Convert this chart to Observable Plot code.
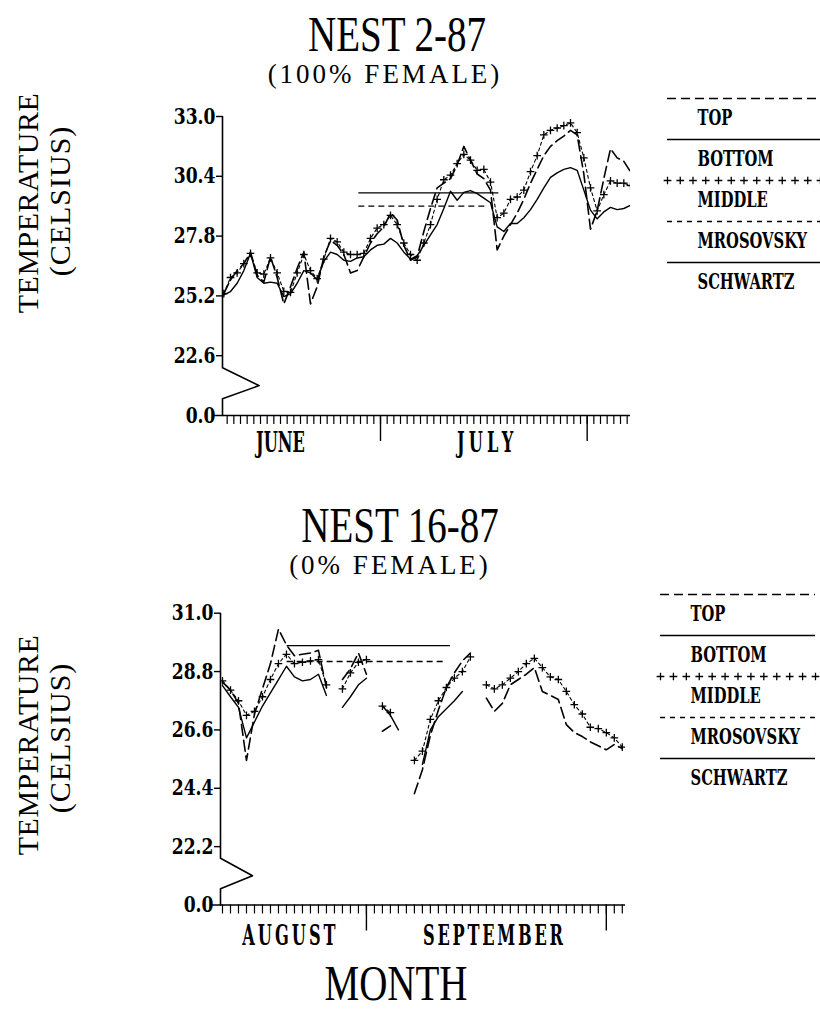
<!DOCTYPE html>
<html>
<head>
<meta charset="utf-8">
<script src="https://cdn.jsdelivr.net/npm/d3@7"></script>
<script src="https://cdn.jsdelivr.net/npm/@observablehq/plot@0.6"></script>
<style>
  html, body { margin: 0; padding: 0; background: #fff; }
  #page { position: relative; width: 820px; height: 1026px; overflow: hidden; background: #fff; }
  .t { position: absolute; white-space: nowrap; color: #000; font-family: "Liberation Serif", "DejaVu Serif", serif; }
  .big { font-size: 50px; line-height: 50px; transform: translateX(-50%) scaleX(0.78); }
  .sub { font-size: 27px; line-height: 27px; letter-spacing: 3px; transform: translateX(-50%); }
  .ylab { font-size: 30px; line-height: 30px; letter-spacing: 0.5px; transform: translate(-50%, -50%) rotate(-90deg); }
</style>
</head>
<body>
<div id="page">
  <div class="t big" style="left:397px; top:9px;">NEST 2-87</div>
  <div class="t sub" style="left:385px; top:61px;">(100% FEMALE)</div>
  <div class="t ylab" style="left:28px; top:203px;">TEMPERATURE</div>
  <div class="t ylab" style="left:60px; top:201px; letter-spacing:1px;">(CELSIUS)</div>

  <div class="t big" style="left:400px; top:500px;">NEST 16-87</div>
  <div class="t sub" style="left:390px; top:552px;">(0% FEMALE)</div>
  <div class="t ylab" style="left:28px; top:745px;">TEMPERATURE</div>
  <div class="t ylab" style="left:60px; top:738px; letter-spacing:1px;">(CELSIUS)</div>

  <div class="t big" style="left:396px; top:958px;">MONTH</div>
</div>
<script>
const DAY = 864e5;

// ---------- NEST 2-87 : daily means, June 7 .. Aug 7 1987 (plotted at midday) ----------
const topFirstDay = Date.UTC(1987, 5, 7, 12);
const topTOP = [
  25.3, 25.9, 26.3, 26.6, 27.1, 26.1, 25.8, 26.9, 26.0, 24.85,
  25.6, 26.4, 27.1, 24.85, 25.6, 26.9, 27.6, 27.4, 27.0, 26.2,
  26.3, 26.9, 27.5, 27.9, 28.2, 28.8, 28.5, 27.4, 26.75, 26.9,
  28.0, 29.0, 29.9, 30.1, 30.3, 30.9, 31.7, 31.1, 30.5, 30.3,
  29.8, 27.2, 27.8, 28.3, 28.8, 29.4, 30.1, 30.7, 31.3, 31.7,
  31.95, 32.15, 32.4, 32.2, 30.5, 28.1, 28.9, 30.3, 31.6, 31.2,
  31.05, 30.6
];
const topBOTTOM = [
  25.24, 25.39, 25.75, 26.3, 27.05, 26.0, 25.75, 25.8, 25.75, 25.17,
  25.3, 25.75, 26.3, 26.2, 25.9, 26.7, 27.1, 27.0, 26.75, 26.7,
  26.85, 26.9, 27.2, 27.4, 27.45, 27.7, 27.5, 27.1, 26.8, 26.95,
  27.4, 27.85, 28.3, 29.0, 29.75, 29.36, 29.7, 29.78, 29.65, 29.45,
  29.25, 28.2, 28.0, 28.35, 28.35, 28.6, 28.95, 29.4, 29.9, 30.35,
  30.55, 30.7, 30.78, 30.66, 29.8, 28.93, 28.55, 28.85, 29.05, 28.95,
  29.0, 29.14
];
const topMIDDLE = [
  25.3, 26.0, 26.2, 26.6, 27.05, 26.2, 26.15, 26.85, 26.2, 25.4,
  25.35, 26.2, 27.0, 26.3, 25.95, 26.8, 27.7, 27.55, 27.1, 27.0,
  27.0, 27.05, 27.7, 28.15, 28.3, 28.7, 28.3, 27.5, 27.0, 26.75,
  27.5, 28.3, 29.4, 30.25, 30.45, 30.95, 31.35, 31.1, 30.66, 30.7,
  30.15, 28.6, 28.8, 29.4, 29.5, 29.8, 30.6, 31.3, 32.2, 32.4,
  32.5, 32.6, 32.72, 32.3, 31.2, 29.9, 28.9, 29.6, 30.2, 30.1,
  30.1, 30.0
];

// ---------- NEST 16-87 : daily means, Aug 14 .. Oct 3 1987 (null = no reading) ----------
const botFirstDay = Date.UTC(1987, 7, 14);
const botTOP = [
  28.4, 28.1, 27.6, 25.45, 27.2, 28.15, 29.1, 30.4, 29.8, 29.4,
  29.45, 29.5, 29.6, 28.2, null, 28.5, 28.9, 29.5, 28.7, null,
  26.55, 26.75, null, null, 24.2, 25.1, 26.4, 27.35, 28.2, 28.75,
  29.2, 29.5, null, 27.8, 27.3, 27.6, 28.3, 28.5, 28.7, 28.95,
  28.05, 27.9, 27.75, 26.8, 26.5, 26.35, 26.15, 26.0, 25.85, 26.05,
  25.9
];
const botBOTTOM = [
  28.27, 27.85, 27.45, 26.3, 26.9, 27.5, 28.0, 28.5, 29.0, 28.6,
  28.45, 28.5, 28.7, 27.9, null, 27.45, 27.85, 28.3, 28.55, null,
  27.5, 27.15, 26.6, null, null, 25.3, 26.6, 27.1, 27.4, 27.7,
  28.05, null, null, null, null, null, null, null, null, null,
  null, null, null, null, null, null, null, null, null, null,
  null
];
const botMIDDLE = [
  28.45, 28.1, 27.7, 27.15, 27.3, 27.85, 28.5, 29.1, 29.45, 29.1,
  29.15, 29.2, 29.25, 28.3, null, 28.15, 28.75, 29.15, 29.25, null,
  27.5, 27.25, null, null, 25.45, 25.8, 27.0, 27.7, 28.2, 28.55,
  28.8, 29.35, null, 28.3, 28.15, 28.3, 28.55, 28.8, 29.1, 29.3,
  28.95, 28.6, 28.5, 28.05, 27.55, 27.2, 26.7, 26.65, 26.5, 26.3,
  25.95
];

// ---------- pivotal temperature lines ----------
const refNames = ["MROSOVSKY", "SCHWARTZ"];
const topRefValues = [29.1, 29.68];
const topRefStart = ["1987-06-27T18:00Z", "1987-06-27T18:00Z"];
const topRefEnd = ["1987-07-16T18:00Z", "1987-07-18T18:00Z"];
const botRefValues = [29.18, 29.78];
const botRefStart = ["1987-08-22T02:00Z", "1987-08-22T02:00Z"];
const botRefEnd = ["1987-09-11T02:00Z", "1987-09-11T12:00Z"];

// ---------- axes ----------
const topYTicks = [20, 22.6, 25.2, 27.8, 30.4, 33.0];
const topYTickLabels = ["0.0", "22.6", "25.2", "27.8", "30.4", "33.0"];
const botYTicks = [20, 22.2, 24.4, 26.6, 28.8, 31.0];
const botYTickLabels = ["0.0", "22.2", "24.4", "26.6", "28.8", "31.0"];
const topMonths = ["JUNE", "JULY"];
const topMonthLabelAt = ["1987-06-16T00:00Z", "1987-07-17T00:00Z"];
const topMonthStarts = ["1987-07-01T00:00Z", "1987-08-01T00:00Z"];
const botMonths = ["AUGUST", "SEPTEMBER"];
const botMonthLabelAt = ["1987-08-22T12:00Z", "1987-09-17T00:00Z"];
const botMonthStarts = ["1987-09-01T00:00Z", "1987-10-01T00:00Z"];
const seriesNames = ["TOP", "BOTTOM", "MIDDLE", "MROSOVSKY", "SCHWARTZ"];

// ---------- text styling helpers ----------
const FONT = "DejaVu Serif, Liberation Serif, serif";
const monthSpacing = {JUNE: 0, JULY: 7, AUGUST: 5, SEPTEMBER: 4.6};

function condense(svg, sx) {
  svg.querySelectorAll("text").forEach(t => {
    const tr = t.getAttribute("transform") || "";
    const isMonth = t.textContent in monthSpacing;
    t.setAttribute("transform", `${tr} scale(${isMonth ? 0.6 : sx},1)`);
    if (isMonth) t.setAttribute("letter-spacing", monthSpacing[t.textContent]);
  });
}

function rowsOf(first, TOP, BOTTOM, MIDDLE) {
  return TOP.map((v, i) => ({date: new Date(first + i * DAY), TOP: v, BOTTOM: BOTTOM[i], MIDDLE: MIDDLE[i]}));
}

function panel(o) {
  const [x0, x1] = o.xDomain;
  const yMin = o.yTicks[0], low = o.yTicks[1], step = o.yTicks[2] - o.yTicks[1];
  const yMax = o.yTicks[o.yTicks.length - 1];
  const axisPath = [
    {x: x0, y: yMax},
    {x: x0, y: low - 0.2 * step},
    {x: new Date(+x0 + o.breakDays * DAY), y: low - 0.5 * step},
    {x: x0, y: low - 0.72 * step},
    {x: x0, y: yMin}
  ];
  const refs = refNames.map((name, i) => ({name, value: o.refValues[i], start: new Date(o.refStart[i]), end: new Date(o.refEnd[i])}));
  const dayTicks = d3.utcDay.range(d3.utcDay.ceil(x0), x1);
  const monthStarts = o.monthStarts.map(d => new Date(d));
  const monthLabels = o.months.map((m, i) => ({m, at: new Date(o.monthLabelAt[i])}));
  const ink = "#000";
  const svg = Plot.plot({
    width: o.width, height: o.height,
    marginLeft: o.margins[0], marginRight: o.margins[1], marginTop: o.margins[2], marginBottom: o.margins[3],
    x: {type: "utc", domain: [x0, x1], axis: null},
    y: {type: "linear", domain: [yMin, yMax], axis: null},
    style: {background: "transparent", overflow: "visible"},
    marks: [
      // broken y axis
      Plot.line(axisPath, {x: "x", y: "y", stroke: ink, strokeWidth: 1.6}),
      // x axis line (extends left as the 0.0 tick)
      Plot.ruleY([yMin], {y: d => d, x1: () => x0, x2: () => x1, insetLeft: -10, stroke: ink, strokeWidth: 1.6}),
      // y ticks and labels
      Plot.ruleY(o.yTicks.slice(1), {y: d => d, x1: () => x0, x2: () => x0, insetLeft: -6, stroke: ink, strokeWidth: 1.4}),
      Plot.text(o.yTicks, {x: () => x0, y: d => d, text: (d, i) => o.yTickLabels[i], textAnchor: "end", dx: -7,
        fontSize: 22, fontWeight: "bold", fontFamily: FONT, fill: ink}),
      // day ticks, month ticks, month names
      Plot.ruleX(dayTicks, {x: d => d, y1: () => yMin, y2: () => yMin, insetBottom: -9, stroke: ink, strokeWidth: 1.2}),
      Plot.ruleX(monthStarts, {x: d => d, y1: () => yMin, y2: () => yMin, insetBottom: -26, stroke: ink, strokeWidth: 1.4}),
      Plot.text(monthLabels, {x: "at", y: () => yMin, text: "m", dy: o.monthDy, fontSize: 27, fontWeight: "bold", fontFamily: FONT, fill: ink}),
      // pivotal temperature lines
      Plot.ruleY(refs.filter(r => r.name === "SCHWARTZ"), {y: "value", x1: "start", x2: "end", stroke: ink, strokeWidth: 1.3}),
      Plot.ruleY(refs.filter(r => r.name === "MROSOVSKY"), {y: "value", x1: "start", x2: "end", stroke: ink, strokeWidth: 1.3, strokeDasharray: "6,4"}),
      // series
      Plot.line(o.rows, {x: "date", y: "BOTTOM", stroke: ink, strokeWidth: 1.4, clip: true}),
      Plot.line(o.rows, {x: "date", y: "TOP", stroke: ink, strokeWidth: 1.6, strokeDasharray: "11,5", clip: true}),
      Plot.line(o.rows, {x: "date", y: "MIDDLE", stroke: ink, strokeWidth: 1.1, strokeDasharray: "3,3", clip: true}),
      Plot.dot(o.rows, {x: "date", y: "MIDDLE", symbol: "plus", r: 2.6, stroke: ink, strokeWidth: 1.3, clip: true})
    ]
  });
  condense(svg, 0.78);
  return svg;
}

function legend(o) {
  const ink = "#000";
  const plusRow = d3.range(13).map(i => ({x: i / 12, y: "MIDDLE"}));
  const svg = Plot.plot({
    width: o.width, height: o.height, margin: 0,
    x: {domain: [0, 1], range: o.xRange, axis: null},
    y: {type: "point", domain: seriesNames, range: o.yRange, padding: 0, axis: null},
    style: {background: "transparent", overflow: "visible"},
    marks: [
      Plot.ruleY(["TOP"], {y: d => d, x1: () => 0, x2: () => 1, stroke: ink, strokeWidth: 1.4, strokeDasharray: "9,5"}),
      Plot.ruleY(["BOTTOM"], {y: d => d, x1: () => 0, x2: () => 1, stroke: ink, strokeWidth: 1.4}),
      Plot.dot(plusRow, {x: "x", y: "y", symbol: "plus", r: 2.6, stroke: ink, strokeWidth: 1.3}),
      Plot.ruleY(["MROSOVSKY"], {y: d => d, x1: () => 0, x2: () => 1, stroke: ink, strokeWidth: 1.3, strokeDasharray: "5,5"}),
      Plot.ruleY(["SCHWARTZ"], {y: d => d, x1: () => 0, x2: () => 1, stroke: ink, strokeWidth: 1.4}),
      Plot.text(seriesNames, {x: () => 0, y: d => d, text: d => d, textAnchor: "start", dx: o.labelDx, dy: 19,
        fontSize: 22, fontWeight: "bold", fontFamily: FONT, fill: ink})
    ]
  });
  condense(svg, 0.67);
  return svg;
}

const page = document.getElementById("page");
function place(el, left, top) {
  el.style.position = "absolute";
  el.style.left = left + "px";
  el.style.top = top + "px";
  page.appendChild(el);
}

// top panel
place(panel({
  rows: rowsOf(topFirstDay, topTOP, topBOTTOM, topMIDDLE),
  xDomain: [new Date(Date.UTC(1987, 5, 7, 7, 12)), new Date(Date.UTC(1987, 7, 7, 12))],
  yTicks: topYTicks, yTickLabels: topYTickLabels,
  refValues: topRefValues, refStart: topRefStart, refEnd: topRefEnd,
  months: topMonths, monthLabelAt: topMonthLabelAt, monthStarts: topMonthStarts,
  monthDy: 28, breakDays: 5.5,
  width: 640, height: 380, margins: [222, 10, 26, 55]
}), 0, 90);

place(legend({width: 170, height: 215, xRange: [17, 170], yRange: [12, 178], labelDx: 30}), 650, 85);

// bottom panel
place(panel({
  rows: rowsOf(botFirstDay, botTOP, botBOTTOM, botMIDDLE),
  xDomain: [new Date(Date.UTC(1987, 7, 13, 18)), new Date(Date.UTC(1987, 9, 3, 9, 36))],
  yTicks: botYTicks, yTickLabels: botYTickLabels,
  refValues: botRefValues, refStart: botRefStart, refEnd: botRefEnd,
  months: botMonths, monthLabelAt: botMonthLabelAt, monthStarts: botMonthStarts,
  monthDy: 31, breakDays: 4,
  width: 640, height: 380, margins: [220, 15, 32.7, 55.5]
}), 0, 580);

place(legend({width: 175, height: 215, xRange: [15, 170], yRange: [14, 178], labelDx: 30}), 645, 580);
</script>
</body>
</html>
